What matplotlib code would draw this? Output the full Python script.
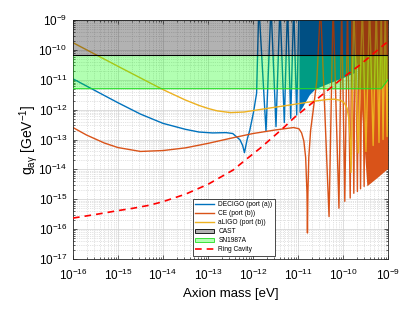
import numpy as np
import matplotlib
matplotlib.use("Agg")
import matplotlib.pyplot as plt
from matplotlib.lines import Line2D
from matplotlib.patches import Patch
from matplotlib.ticker import LogLocator, NullFormatter

plt.rcParams['font.family'] = ['Liberation Sans', 'DejaVu Sans']
plt.rcParams['mathtext.fontset'] = 'custom'
plt.rcParams['mathtext.rm'] = 'Liberation Sans'

# all values are log10(mass / eV) and log10(g / GeV^-1)
# peaks that run off the top of the plot are given as -8.5

decigo_m = [-16, -15.5, -15, -14.5, -14, -13.5, -13.2, -12.9, -12.6, -12.45, -12.29, -12.23, -12.19,
            -12.13, -12.07, -11.99, -11.92, -11.87,
            -11.711, -11.6, -11.489, -11.4, -11.304, -11.233, -11.162, -11.096, -11.029, -10.978]
decigo_g = [-10.97, -11.37, -11.77, -12.15, -12.46, -12.66, -12.75, -12.78, -12.77, -12.80, -13.01, -13.2, -13.44,
            -13.0, -12.68, -12.1, -11.45, -8.5,
            -12.73, -8.5, -12.57, -8.5, -12.43, -8.5, -12.29, -8.5, -12.18, -8.5]
# region where the DECIGO oscillations are too dense to tell apart
decigo_dense_m = [-10.98, -10.9, -10.75, -10.62, -10.3, -9.96, -9.73]
decigo_dense_g = [-12.08, -11.9, -11.5, -11.3, -11.1, -10.9, -10.75]

ce_m = [-16, -15.7, -15.3, -15.0, -14.5, -14.0, -13.5, -13.0, -12.5, -12.0, -11.5, -11.1, -10.98,
        -10.92, -10.87, -10.83, -10.80, -10.79, -10.78, -10.76, -10.72, -10.66, -10.58, -10.5,
        -10.31, -10.22, -10.09, -10.03, -9.96, -9.9, -9.84, -9.8, -9.76, -9.72, -9.68, -9.645,
        -9.61, -9.57, -9.53, -9.5]
ce_g = [-12.60, -12.85, -13.12, -13.27, -13.40, -13.37, -13.28, -13.13, -12.96, -12.80, -12.68, -12.60, -12.64,
        -12.78, -13.05, -13.6, -14.8, -16.13, -14.8, -13.6, -12.7, -12.0, -11.0, -8.5,
        -15.58, -8.5, -15.30, -8.5, -15.07, -8.5, -14.96, -8.5, -14.80, -8.5, -14.74, -8.5,
        -14.65, -8.5, -14.57, -8.5]
ce_dense_m = [-9.72, -9.62, -9.47, -9.25, -9.0]
ce_dense_g = [-10.2, -11.3, -14.55, -14.28, -13.96]

aligo_m = [-16, -15, -14, -13.5, -13.2, -13.0, -12.8, -12.5, -12.2, -11.9, -11.6, -11.2, -10.9, -10.6,
           -10.35, -10.2, -10.05, -9.97, -9.91, -9.87, -9.84, -9.82,
           -9.76, -9.66, -9.57, -9.49, -9.41, -9.33, -9.26, -9.2, -9.15, -9.11, -9.06, -9.02, -9.0]
aligo_g = [-9.76, -10.55, -11.33, -11.68, -11.86, -11.96, -12.04, -12.10, -12.08, -12.01, -11.94, -11.85, -11.78, -11.71,
           -11.66, -11.65, -11.69, -11.78, -11.95, -12.3, -13.0, -14.1,
           -8.5, -13.45, -8.5, -13.4, -8.5, -13.2, -8.5, -13.1, -8.5, -13.0, -8.5, -12.9, -11.0]

ring_m = [-16, -15.5, -15, -14.66, -14.3, -14, -13.5, -13, -12.44, -12.14, -11.84, -11.36, -11.07,
          -10.5, -10.0, -9.62, -9.1, -9.0]
ring_g = [-15.63, -15.51, -15.38, -15.30, -15.2, -15.08, -14.83, -14.5, -14.02, -13.65, -13.29, -12.66, -12.25,
          -11.55, -10.93, -10.5, -9.84, -9.72]

cast_limit = -10.18
sn_m = [-16, -9.15, -9.0]
sn_g = [-11.3, -11.3, -11.0]

c_blue = '#0072BD'
c_orange = '#D95319'
c_yellow = '#EDB120'


def p10(v):
    return np.power(10.0, np.asarray(v, dtype=float))


fig = plt.figure(figsize=(4.15, 3.12), dpi=100)
ax = fig.add_axes([73 / 415, 53 / 312, 315 / 415, 239 / 312])

ax.plot(p10(decigo_m), p10(decigo_g), color=c_blue, lw=1.0, zorder=2)
ax.fill_between(p10(decigo_dense_m), p10(decigo_dense_g), 10 ** -8.5, color=c_blue, lw=0, zorder=2)
ax.plot(p10(ce_m), p10(ce_g), color=c_orange, lw=1.0, zorder=2.1)
ax.fill_between(p10(ce_dense_m), p10(ce_dense_g), 10 ** -8.5, color=c_orange, lw=0, zorder=2.1)
ax.plot(p10(aligo_m), p10(aligo_g), color=c_yellow, lw=1.0, zorder=2.2)

xs = p10([-16, -9])
ax.fill_between(xs, 10 ** cast_limit, 10 ** -8.5, facecolor='k', alpha=0.3, lw=0, zorder=3)
ax.plot(xs, [10 ** cast_limit] * 2, color='k', lw=0.8, zorder=3.1)
ax.fill_between(p10(sn_m), p10(sn_g), 10 ** cast_limit, facecolor=(0, 1, 0), alpha=0.3, lw=0, zorder=3)
ax.plot(p10(sn_m), p10(sn_g), color='#22DD22', lw=0.8, zorder=3.1)

ax.plot(p10(ring_m), p10(ring_g), color='r', lw=1.2, ls=(0, (4, 3)), zorder=4)

ax.set_xscale('log')
ax.set_yscale('log')
ax.set_xlim(1e-16, 1e-9)
ax.set_ylim(1e-17, 1e-9)
ax.set_xticks(p10(np.arange(-16, -8)))
ax.set_yticks(p10(np.arange(-17, -8)))
for axis in (ax.xaxis, ax.yaxis):
    axis.set_minor_locator(LogLocator(base=10, subs=np.arange(2, 10), numticks=100))
    axis.set_minor_formatter(NullFormatter())

ax.set_axisbelow(True)
ax.grid(which='major', color='0.82', lw=0.5, ls='-')
ax.grid(which='minor', color='0.78', lw=0.5, ls=':')
ax.tick_params(which='both', direction='in', top=True, right=True, labelsize=8.5, width=0.5, color='0.15')
ax.tick_params(which='major', length=3)
ax.tick_params(axis='x', which='major', pad=6)
ax.tick_params(axis='y', which='major', pad=4)
ax.tick_params(which='minor', length=1.5)
for s in ax.spines.values():
    s.set_linewidth(0.6)
    s.set_color('0.15')

ax.set_xlabel('Axion mass [eV]', fontsize=9.5, labelpad=4)
ax.set_ylabel(r'g$_{\mathregular{a\gamma}}$ [GeV$^{\mathregular{-1}}$]', fontsize=10, labelpad=-1)

handles = [
    Line2D([], [], color=c_blue, lw=1.0),
    Line2D([], [], color=c_orange, lw=1.0),
    Line2D([], [], color=c_yellow, lw=1.0),
    Patch(facecolor='#B3B3B3', edgecolor='k', lw=0.6),
    Patch(facecolor='#B2FFB2', edgecolor='#22DD22', lw=0.6),
    Line2D([], [], color='r', lw=1.2, ls=(0, (4, 3))),
]
labels = ['DECIGO (port (a))', 'CE (port (b))', 'aLIGO (port (b))', 'CAST', 'SN1987A', 'Ring Cavity']
leg = ax.legend(handles, labels, loc='lower left', bbox_to_anchor=(0.38, 0.014), fontsize=4.8,
                handlelength=2.9, labelspacing=0.3, borderpad=0.35, handletextpad=0.6,
                borderaxespad=0, fancybox=False, framealpha=1, edgecolor='k')
leg.get_frame().set_linewidth(0.5)
leg.set_zorder(10)

fig.savefig('out.png', dpi=100)
